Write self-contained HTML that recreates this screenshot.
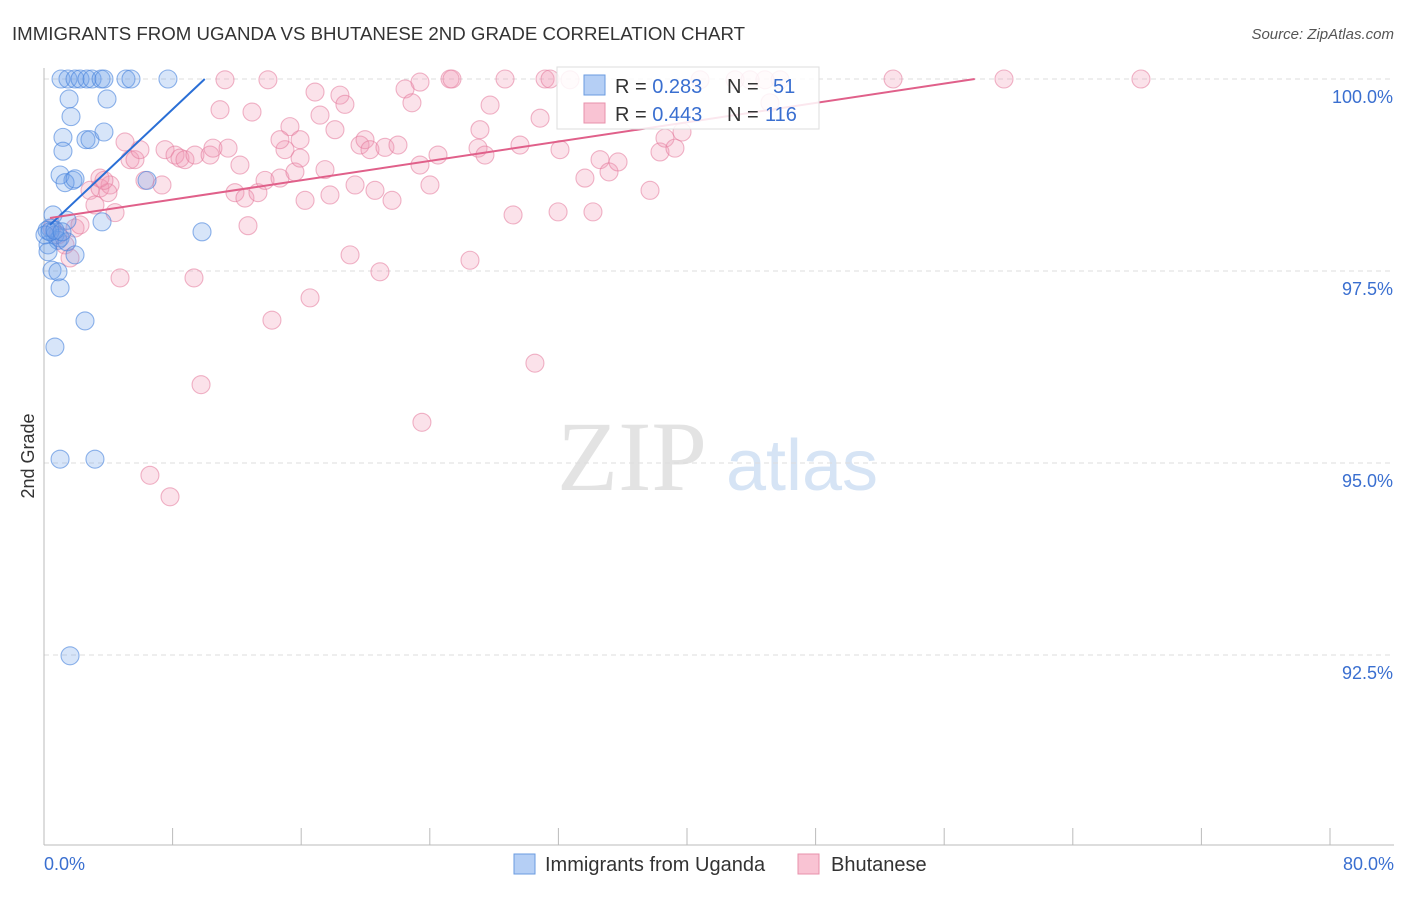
<!DOCTYPE html>
<html><head><meta charset="utf-8"><style>
body{margin:0;background:#fff;font-family:"Liberation Sans",sans-serif}
</style></head><body>
<svg id="chart" width="1406" height="892" xmlns="http://www.w3.org/2000/svg" font-family="Liberation Sans, sans-serif">
<text x="12" y="40" font-size="18" fill="#333" textLength="733" lengthAdjust="spacingAndGlyphs">IMMIGRANTS FROM UGANDA VS BHUTANESE 2ND GRADE CORRELATION CHART</text>
<text x="1394" y="39" font-size="15" fill="#555" font-style="italic" text-anchor="end">Source: ZipAtlas.com</text>
<text x="34" y="456" font-size="18" fill="#333" text-anchor="middle" transform="rotate(-90 34 456)">2nd Grade</text>
<g><text x="632" y="490" font-size="100" fill="#e3e3e3" font-family="Liberation Serif, serif" text-anchor="middle">ZIP</text><text x="802" y="490" font-size="72" fill="#d6e4f5" text-anchor="middle">atlas</text></g>
<g id="grid"></g><g id="axes"></g><g id="pts"></g><g id="lines"></g>
<g>
<rect x="557" y="67" width="262" height="62" fill="#fff" fill-opacity="0.85" stroke="#ddd"/>
<rect x="584" y="75" width="21" height="20" fill="#b5cff5" stroke="#6a9be0"/>
<rect x="584" y="103" width="21" height="20" fill="#f9c3d3" stroke="#e890ab"/>
<text x="615" y="93" font-size="20" fill="#333">R = <tspan fill="#3a6fd0">0.283</tspan><tspan x="727">N = </tspan><tspan x="773" fill="#3a6fd0">51</tspan></text>
<text x="615" y="121" font-size="20" fill="#333">R = <tspan fill="#3a6fd0">0.443</tspan><tspan x="727">N = </tspan><tspan x="765" fill="#3a6fd0">116</tspan></text>
</g>
<g>
<rect x="514" y="854" width="21" height="20" fill="#b5cff5" stroke="#6a9be0"/>
<text x="545" y="871" font-size="20" fill="#333">Immigrants from Uganda</text>
<rect x="798" y="854" width="21" height="20" fill="#f9c3d3" stroke="#e890ab"/>
<text x="831" y="871" font-size="20" fill="#333">Bhutanese</text>
</g>
</svg>
<script>
const yTicks=[100,97.5,95,92.5];
const yTickLabels=["100.0%","97.5%","95.0%","92.5%"];
const xTicks=[0,8,16,24,32,40,48,56,64,72,80];
const xEdgeLabels=["0.0%","80.0%"];
const ugX=[1.06,1.49,1.93,2.24,2.67,2.99,3.55,3.73,5.1,5.41,7.71,1.56,3.92,1.68,1.18,2.61,2.86,1.18,3.73,1.0,1.8,1.31,1.93,6.41,0.56,1.43,3.61,9.83,0.37,0.68,0.87,0.25,1.0,0.25,1.43,1.93,0.5,0.87,1.0,2.55,0.68,1.0,3.17,1.62,0.19,0.06,0.37,0.68,1.12];
const ugY=[100,100,100,100,100,100,100,100,100,100,100,99.74,99.74,99.51,99.24,99.21,99.21,99.06,99.31,98.75,98.68,98.65,98.7,98.68,98.23,98.16,98.14,98.01,98.06,97.97,97.9,97.84,97.93,97.75,97.88,97.71,97.51,97.49,97.28,96.85,96.51,95.05,95.05,92.49,98.03,97.97,98.01,98.03,98.01];
const bhX=[0.5,0.87,1.31,1.62,1.93,2.24,2.86,3.48,4.11,3.98,4.42,3.17,3.48,3.73,4.73,5.04,5.35,5.66,5.97,6.28,7.34,7.53,8.15,8.46,8.77,9.39,10.33,10.51,10.95,11.26,11.45,11.88,12.19,12.5,12.69,12.94,13.31,13.75,13.93,14.18,14.68,14.99,15.3,15.61,15.93,16.24,16.55,16.86,17.17,17.48,17.79,18.1,18.41,18.72,19.04,19.35,19.66,19.97,20.28,20.59,20.9,21.21,21.65,22.02,22.46,22.89,23.39,24.01,24.51,25.26,25.38,26.5,27.0,27.43,27.75,28.68,29.18,29.61,30.54,30.86,31.17,31.48,31.98,32.72,33.65,34.15,34.59,35.15,35.71,37.7,38.32,38.63,39.25,39.69,40.81,42.99,43.92,44.85,45.16,45.79,52.82,59.72,68.24,23.51,9.77,9.33,6.59,7.84,23.39,14.68,15.93,27.12,32.1];
const bhY=[98.06,97.97,97.84,97.67,98.06,98.1,98.55,98.58,98.62,98.52,98.26,98.36,98.71,98.68,97.41,99.18,98.95,98.95,99.08,98.68,98.62,99.08,99.01,98.97,98.95,99.01,99.01,99.1,99.6,99.99,99.1,98.52,98.88,98.45,98.09,99.57,98.52,98.68,99.99,96.86,98.71,99.08,99.38,98.79,99.21,98.42,97.15,99.83,99.53,98.82,98.49,99.34,99.79,99.67,97.71,98.62,99.14,99.21,99.08,98.55,97.49,99.11,98.42,99.14,99.87,99.69,98.88,98.62,99.01,100,100,97.64,99.1,99.01,99.66,100,98.23,99.14,96.3,99.49,100,100,98.27,99.99,98.71,98.27,98.95,98.79,98.92,98.55,99.05,99.23,99.1,99.31,99.99,99.99,99.99,99.99,99.69,99.99,100,100,100,95.53,96.02,97.41,94.84,94.56,99.96,99.21,98.97,99.34,99.08];
const ugTrend=[0.37,98.1,10.0,100];
const bhTrend=[0.37,98.19,57.9,100];
const NS="http://www.w3.org/2000/svg";
const xs=v=>44+v/80*1286;
const ys=v=>79+(100-v)*76.8;
function mk(t,a,p){const e=document.createElementNS(NS,t);for(const k in a)e.setAttribute(k,a[k]);p.appendChild(e);return e;}
const grid=document.getElementById('grid'),axes=document.getElementById('axes'),pts=document.getElementById('pts'),lines=document.getElementById('lines');
yTicks.forEach((v,i)=>{
 const l=mk('line',{x1:44,x2:1394,y1:ys(v),y2:ys(v),stroke:'#ddd','stroke-dasharray':'5,4'},grid);
 
 
 const t=mk('text',{x:1393,y:ys(v)+24,'font-size':18,fill:'#3a6fd0','text-anchor':'end'},axes);
 t.textContent=yTickLabels[i];
 
 
});
const ax=mk('line',{x1:44,x2:1394,y1:845,y2:845,stroke:'#bbb'},axes);


const ay=mk('line',{x1:44,x2:44,y1:68,y2:845,stroke:'#bbb'},axes);


xTicks.forEach(v=>{
 const l=mk('line',{x1:xs(v),x2:xs(v),y1:828,y2:845,stroke:'#bbb'},axes);
 
 
});
const t0=mk('text',{x:44,y:870,'font-size':18,fill:'#3a6fd0'},axes);t0.textContent=xEdgeLabels[0];


const t1=mk('text',{x:1394,y:870,'font-size':18,fill:'#3a6fd0','text-anchor':'end'},axes);t1.textContent=xEdgeLabels[1];


bhX.forEach((v,i)=>{
 const c=mk('circle',{cx:xs(v),cy:ys(bhY[i]),r:9,fill:'rgba(242,150,178,0.28)',stroke:'rgba(228,120,155,0.55)','stroke-width':1.1},pts);
 
 
});
ugX.forEach((v,i)=>{
 const c=mk('circle',{cx:xs(v),cy:ys(ugY[i]),r:9,fill:'rgba(110,160,235,0.28)',stroke:'rgba(70,130,220,0.6)','stroke-width':1.1},pts);
 
 
});
const lb=mk('line',{x1:xs(ugTrend[0]),y1:ys(ugTrend[1]),x2:xs(ugTrend[2]),y2:ys(ugTrend[3]),stroke:'#2a6fd6','stroke-width':2},lines);


const lp=mk('line',{x1:xs(bhTrend[0]),y1:ys(bhTrend[1]),x2:xs(bhTrend[2]),y2:ys(bhTrend[3]),stroke:'#e0608a','stroke-width':2},lines);


</script>
</body></html>
